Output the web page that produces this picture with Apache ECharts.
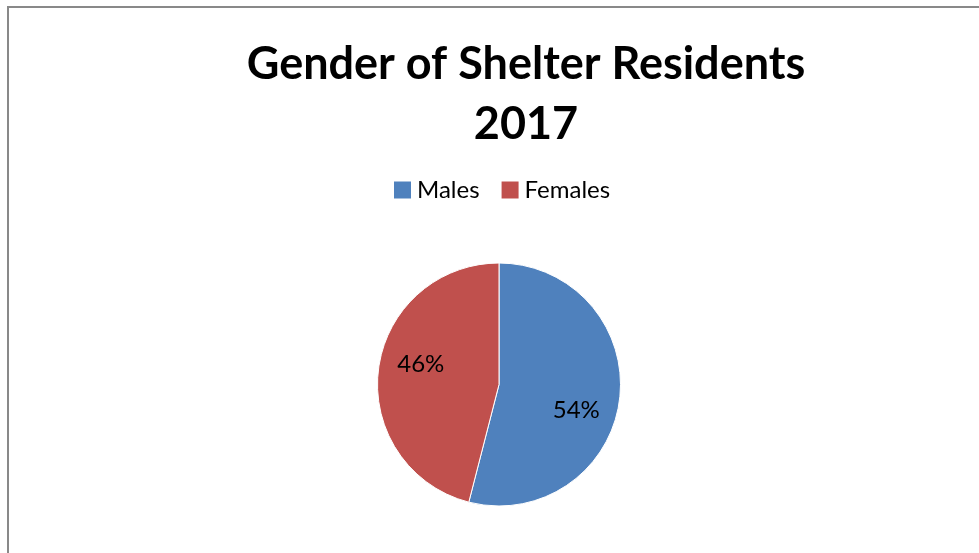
<!DOCTYPE html>
<html>
<head>
<meta charset="utf-8">
<script src="https://cdn.jsdelivr.net/npm/echarts@6/dist/echarts.min.js"></script>
<style>html,body{margin:0;padding:0;background:#fff}#c{width:979px;height:553px}</style>
</head>
<body>
<div id="c"></div>
<script>
const titleText = 'Gender of Shelter Residents\n2017';
const categories = ['Males', 'Females'];
const values = [54, 46];
const colors = ['#4F81BD', '#C0504D'];

const chart = echarts.init(document.getElementById('c'), null, {renderer: 'canvas'});
const labelShift = [[14, 18], [-15, -12]];
chart.setOption({
  animation: false,
  backgroundColor: '#fff',
  graphic: [{
    type: 'rect', shape: {x: 8, y: 7, width: 1100, height: 700},
    style: {fill: 'none', stroke: '#898989', lineWidth: 2}, silent: true
  }],
  title: {
    text: titleText,
    left: 521, textAlign: 'center', top: 29,
    textStyle: {fontFamily: 'Lato', fontWeight: 'bold', fontSize: 45, lineHeight: 60, color: '#000'}
  },
  legend: {
    data: categories,
    left: 387, top: 173,
    icon: 'rect', itemWidth: 19, itemHeight: 19, itemGap: 20,
    textStyle: {fontFamily: 'Lato', fontSize: 24, color: '#000', padding: 0}
  },
  series: [{
    type: 'pie',
    center: [499, 384.5],
    radius: 121.5,
    startAngle: 90,
    clockwise: true,
    color: colors,
    itemStyle: {borderColor: '#fff', borderWidth: 1},
    label: {show: true, position: 'inside', formatter: '{d}%', fontFamily: 'Lato', fontSize: 24, color: '#000'},
    labelLayout: function (p) {
      const s = labelShift[p.dataIndex];
      return {dx: s[0], dy: s[1]};
    },
    emphasis: {disabled: true},
    data: categories.map((c, i) => ({name: c, value: values[i]}))
  }]
});
</script>
</body>
</html>
